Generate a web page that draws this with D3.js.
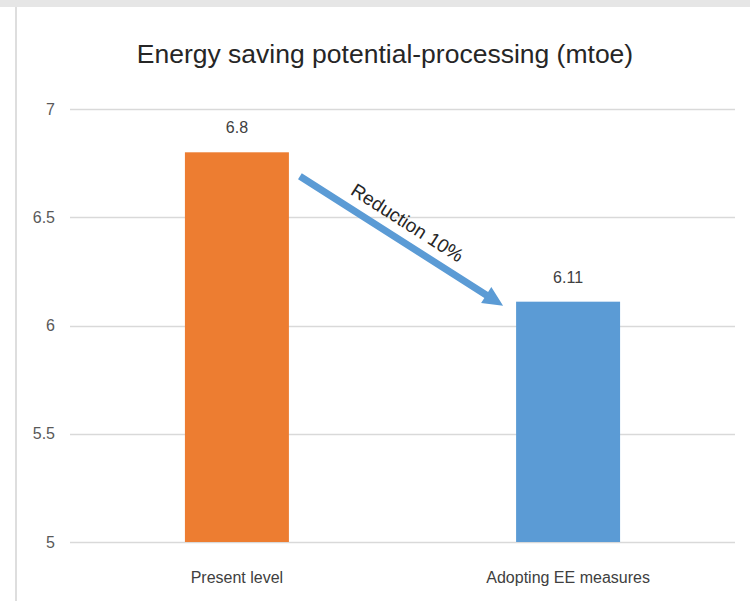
<!DOCTYPE html>
<html>
<head>
<meta charset="utf-8">
<script src="https://cdn.jsdelivr.net/npm/d3@7"></script>
<style>
  html, body { margin: 0; padding: 0; background: #fff; }
  svg { display: block; font-family: "Liberation Sans", Arial, sans-serif; }
</style>
</head>
<body>
<svg id="chart" width="750" height="601"></svg>
<script>
// Energy saving potential in the processing sector, million tonnes of oil equivalent
const categories = ["Present level", "Adopting EE measures"];
const values = [6.8, 6.11];
const barColors = ["#ED7D31", "#5B9BD5"];
const yTicks = [5, 5.5, 6, 6.5, 7];
const titleText = "Energy saving potential-processing (mtoe)";
const arrowLabel = "Reduction 10%";

const W = 750, H = 601;
const margin = { top: 109, right: 15, bottom: 59, left: 70 };
const svg = d3.select("#chart");

// frame of the chart area
svg.append("rect").attr("x", 0).attr("y", 0).attr("width", W).attr("height", 7).attr("fill", "#e6e6e6");
svg.append("line").attr("x1", 16).attr("x2", 16).attr("y1", 7).attr("y2", H)
  .attr("stroke", "#dedede").attr("stroke-width", 2);

const x = d3.scaleBand()
  .domain(categories)
  .range([margin.left, W - margin.right])
  .paddingInner(0.686)
  .paddingOuter(0.347);

const y = d3.scaleLinear()
  .domain([5, 7])
  .range([H - margin.bottom, margin.top]);

// horizontal gridlines
svg.append("g")
  .selectAll("line")
  .data(yTicks)
  .join("line")
  .attr("x1", margin.left)
  .attr("x2", W - margin.right)
  .attr("y1", d => Math.round(y(d)) + 0.5)
  .attr("y2", d => Math.round(y(d)) + 0.5)
  .attr("stroke", "#d9d9d9")
  .attr("stroke-width", 1.5);

// y axis labels
const yAxis = d3.axisLeft(y).tickValues(yTicks).tickSize(0).tickPadding(15).tickFormat(d3.format("~g"));
const gy = svg.append("g").attr("transform", `translate(${margin.left},0)`).call(yAxis);
gy.select(".domain").remove();
gy.selectAll("text").attr("font-size", 16).attr("fill", "#595959")
  .style("font-family", "Liberation Sans, Arial, sans-serif");

// bars
svg.append("g")
  .selectAll("rect")
  .data(values)
  .join("rect")
  .attr("x", (d, i) => x(categories[i]))
  .attr("y", d => y(d))
  .attr("width", x.bandwidth())
  .attr("height", d => y(5) - y(d))
  .attr("fill", (d, i) => barColors[i]);

// value labels
svg.append("g")
  .selectAll("text")
  .data(values)
  .join("text")
  .attr("x", (d, i) => x(categories[i]) + x.bandwidth() / 2)
  .attr("y", d => y(d) - 19)
  .attr("text-anchor", "middle")
  .attr("font-size", 16)
  .attr("fill", "#404040")
  .text(d => d3.format("~g")(d));

// category labels
const xAxis = d3.axisBottom(x).tickSize(0).tickPadding(30);
const gx = svg.append("g").attr("transform", `translate(0,${H - margin.bottom})`).call(xAxis);
gx.select(".domain").remove();
gx.selectAll("text").attr("font-size", 16).attr("fill", "#404040")
  .style("font-family", "Liberation Sans, Arial, sans-serif");

// title
svg.append("text")
  .attr("x", 385)
  .attr("y", 63)
  .attr("text-anchor", "middle")
  .attr("font-size", 26.5)
  .attr("fill", "#262626")
  .text(titleText);

// arrow from the top of the first bar down to the top of the second
const x0 = x(categories[0]) + x.bandwidth() + 11;
const y0 = y(values[0]) + 24;
const x1 = x(categories[1]) - 13;
const y1 = y(values[1]) + 4;
const ang = Math.atan2(y1 - y0, x1 - x0);
const len = Math.hypot(x1 - x0, y1 - y0);
const head = 20, shaft = 7, headW = 19;
const arrow = svg.append("g")
  .attr("transform", `translate(${x0},${y0}) rotate(${ang * 180 / Math.PI})`);
arrow.append("path")
  .attr("d", `M0,${-shaft / 2} L${len - head},${-shaft / 2} L${len - head},${-headW / 2} L${len},0 L${len - head},${headW / 2} L${len - head},${shaft / 2} L0,${shaft / 2} Z`)
  .attr("fill", "#5B9BD5");
arrow.append("text")
  .attr("x", len * 0.48)
  .attr("y", -12)
  .attr("text-anchor", "middle")
  .attr("font-size", 19)
  .attr("fill", "#262626")
  .text(arrowLabel);
</script>
</body>
</html>
